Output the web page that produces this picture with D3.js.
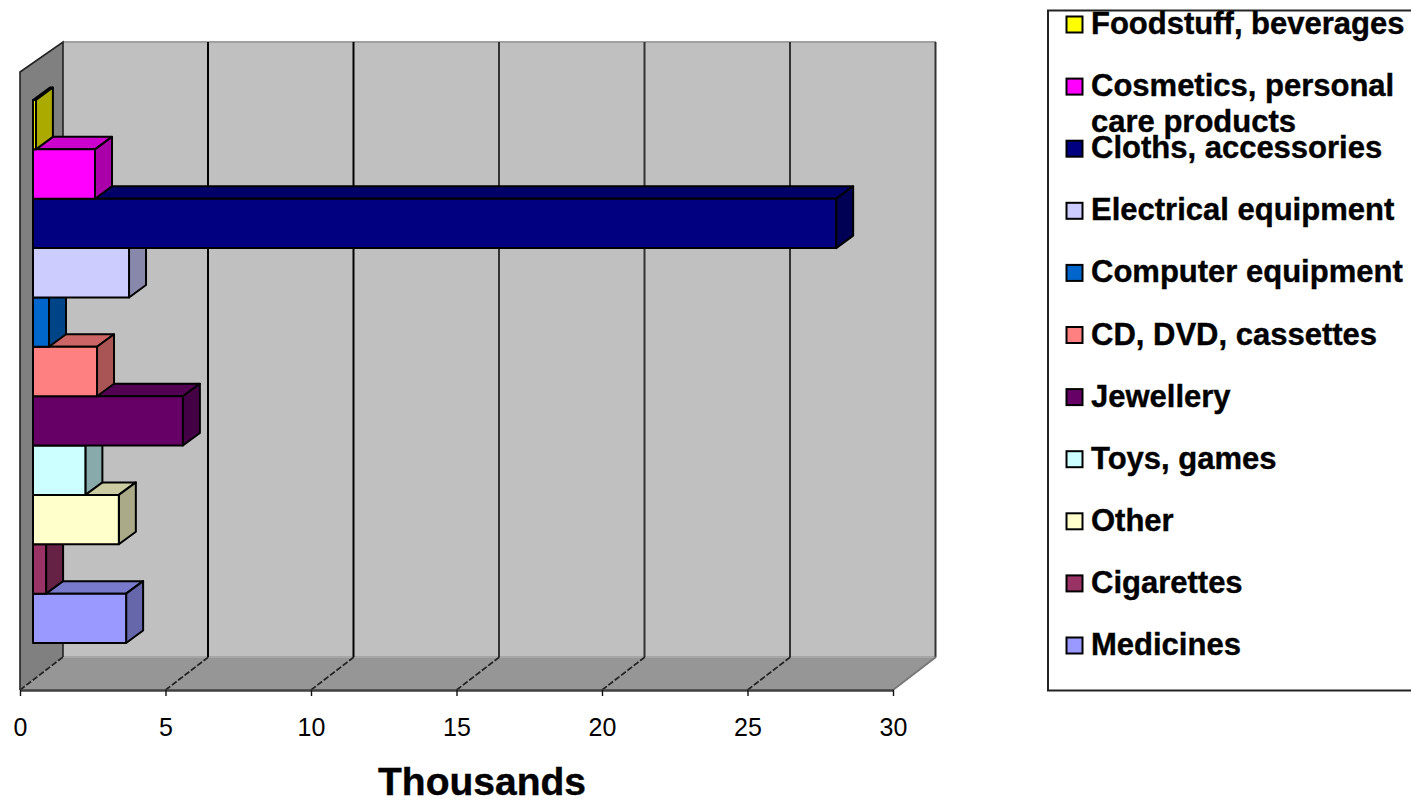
<!DOCTYPE html>
<html>
<head>
<meta charset="utf-8">
<style>
html,body{margin:0;padding:0;background:#fff;overflow:hidden}
svg{display:block}
text{font-family:"Liberation Sans",Arial,sans-serif;fill:#000}
</style>
<script src="https://cdn.jsdelivr.net/npm/d3@7/dist/d3.min.js"></script>
</head>
<body>
<svg id="chart" width="1411" height="800"></svg>
<script>
// Retail categories, listed from the top bar downwards
const categories = ["Foodstuff, beverages","Cosmetics, personal care products","Cloths, accessories","Electrical equipment","Computer equipment","CD, DVD, cassettes","Jewellery","Toys, games","Other","Cigarettes","Medicines"];
const values = [0.1,2.13,27.6,3.3,0.55,2.2,5.15,1.8,2.95,0.45,3.2];
const colors = ["#ffff00","#ff00ff","#000080","#ccccff","#0066cc","#ff8080","#660066","#ccffff","#ffffcc","#993366","#9999ff"];
const xTicks = [0,5,10,15,20,25,30];

const svg = d3.select("#chart");
const x = d3.scaleLinear().domain([0,30]).range([20,893]);
const y = d3.scaleBand().domain(categories).range([100,643]);

// Oblique projection: box depth plus the wall and bar offsets
const wall = {dx:43, dy:-33, floor:690, top:75};
const barInset = 13, barDepth = {dx:17, dy:-12.5};
const poly = pts => pts.map(p => p.join(",")).join(" ");
const shade = (c,k) => { const r = d3.rgb(c); return d3.rgb(r.r*k, r.g*k, r.b*k).formatHex(); };

const x0 = x(0), x1 = x(30);

// Floor
svg.append("polygon")
  .attr("points", poly([[x0,wall.floor],[x1,wall.floor],[x1+wall.dx,wall.floor+wall.dy],[x0+wall.dx,wall.floor+wall.dy]]))
  .attr("fill","#969696");
// Back wall
svg.append("rect")
  .attr("x",x0+wall.dx).attr("y",wall.top+wall.dy)
  .attr("width",x1-x0).attr("height",wall.floor-wall.top)
  .attr("fill","#c0c0c0");
svg.append("line")
  .attr("x1",x0+wall.dx).attr("x2",x1+wall.dx)
  .attr("y1",wall.top+wall.dy).attr("y2",wall.top+wall.dy)
  .attr("stroke","#a0a0a0").attr("stroke-width",2);
svg.append("line")
  .attr("x1",x0+wall.dx).attr("x2",x1+wall.dx)
  .attr("y1",wall.floor+wall.dy).attr("y2",wall.floor+wall.dy)
  .attr("stroke","#a6a6a6").attr("stroke-width",2);
// Side wall
svg.append("polygon")
  .attr("points", poly([[x0,wall.top-3],[x0+wall.dx,wall.top+wall.dy],[x0+wall.dx,wall.floor+wall.dy],[x0,wall.floor]]))
  .attr("fill","#808080");
svg.append("path")
  .attr("d",`M${x0},${wall.floor}V${wall.top-3}L${x0+wall.dx},${wall.top+wall.dy}V${wall.floor+wall.dy}`)
  .attr("fill","none").attr("stroke","#222").attr("stroke-width",1.6);

// Grid lines run across the floor and up the back wall
const grid = svg.append("g");
xTicks.forEach(t => {
  if (t > 0) {
    grid.append("line")
      .attr("x1",x(t)+wall.dx-0.5).attr("x2",x(t)+wall.dx-0.5)
      .attr("y1",wall.top+wall.dy).attr("y2",wall.floor+wall.dy)
      .attr("stroke", t <= 10 ? "#000" : "#333").attr("stroke-width",2);
  }
  grid.append("line")
    .attr("x1",x(t)).attr("x2",x(t)+wall.dx)
    .attr("y1",wall.floor).attr("y2",wall.floor+wall.dy)
    .attr("stroke", t === 30 ? "#777" : "#222").attr("stroke-width",1.8)
    .attr("stroke-dasharray", t === 30 ? null : "6 2");
});

// Value axis along the front of the floor
const axis = d3.axisBottom(x).tickValues(xTicks).tickSize(6).tickSizeOuter(0);
const axisG = svg.append("g").attr("transform",`translate(0,${wall.floor})`).call(axis);
axisG.select(".domain").attr("stroke","#404040").attr("stroke-width",2.4);
axisG.selectAll(".tick line").attr("stroke","#111").attr("stroke-width",1.4);
axisG.selectAll(".tick text")
  .attr("y",46).attr("dy",0)
  .style("font-family",'"Liberation Sans",Arial,sans-serif')
  .style("font-size","25px").attr("fill","#000");

// Bars are painted bottom-up so each front face overlaps the top of the bar below it
const data = categories.map((c,i) => ({c, v:values[i], color:colors[i]})).reverse();
const bars = svg.append("g").selectAll("g").data(data).join("g")
  .attr("stroke","#000").attr("stroke-width",2).attr("stroke-linejoin","round");
const left = () => x(0) + barInset;
const right = d => x(d.v) + barInset;
bars.append("polygon")
  .attr("fill", d => shade(d.color,0.8))
  .attr("points", d => { const t = y(d.c); return poly([[left(),t],[right(d),t],[right(d)+barDepth.dx,t+barDepth.dy],[left()+barDepth.dx,t+barDepth.dy]]); });
bars.append("polygon")
  .attr("fill", d => shade(d.color,0.667))
  .attr("points", d => { const t = y(d.c), b = t + y.bandwidth(); return poly([[right(d),t],[right(d)+barDepth.dx,t+barDepth.dy],[right(d)+barDepth.dx,b+barDepth.dy],[right(d),b]]); });
bars.append("rect")
  .attr("fill", d => d.color)
  .attr("x", left).attr("y", d => y(d.c))
  .attr("width", d => right(d)-left()).attr("height", y.bandwidth());

// Axis title
svg.append("text")
  .attr("x",482).attr("y",795).attr("text-anchor","middle")
  .attr("font-size",39).attr("font-weight","bold").attr("stroke","#000").attr("stroke-width",0.4).text("Thousands");

// Legend
svg.append("rect")
  .attr("x",1048).attr("y",10.5).attr("width",420).attr("height",680)
  .attr("fill","none").attr("stroke","#222").attr("stroke-width",2);
const legendStep = 62.1, legendFirst = 34;
const legendLines = {"Cosmetics, personal care products":["Cosmetics, personal","care products"]};
const legend = svg.append("g").selectAll("g").data(categories).join("g")
  .attr("transform",(d,i) => `translate(0,${legendFirst + i*legendStep})`);
legend.append("rect")
  .attr("x",1066.5).attr("y",-17.5).attr("width",16).attr("height",16)
  .attr("fill",(d,i) => colors[i]).attr("stroke","#000").attr("stroke-width",2);
legend.append("text")
  .attr("font-size",31).attr("font-weight","bold").attr("stroke","#000").attr("stroke-width",0.4)
  .selectAll("tspan").data(d => legendLines[d] || [d]).join("tspan")
  .attr("x",1091).attr("y",(d,i) => i*36).text(d => d);
</script>
</body>
</html>
